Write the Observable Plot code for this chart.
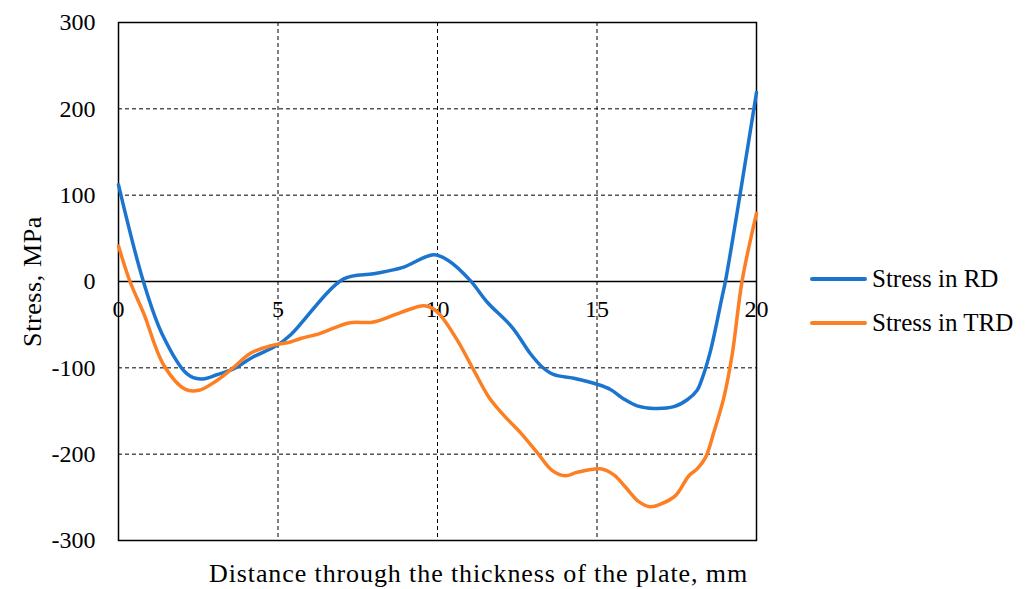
<!DOCTYPE html>
<html>
<head>
<meta charset="utf-8">
<script src="https://cdn.jsdelivr.net/npm/d3@7"></script>
<script src="https://cdn.jsdelivr.net/npm/@observablehq/plot@0.6"></script>
<style>
  body { margin: 0; background: #fff; }
  #wrap { position: relative; width: 1027px; height: 589px; font-family: "Liberation Serif", "Times New Roman", serif; }
  .leg { position: absolute; left: 810px; display: flex; align-items: center; font-size: 25px; color: #000; white-space: nowrap; }
  .leg span.sw { display: inline-block; width: 57px; height: 3.5px; border-radius: 2px; margin-right: 5px; }
</style>
</head>
<body>
<div id="wrap"></div>
<script>
const rdX = [0,0.78,1.37,2.15,2.57,3.09,3.62,4.19,4.97,5.39,7.06,8.0,8.89,9.88,10.35,11.03,11.56,12.34,12.92,13.28,13.65,14.27,15.0,15.42,15.84,16.26,16.78,17.41,17.83,18.14,18.29,18.56,18.92,19.03,20];
const rdY = [112,0,-61,-107,-113,-108,-101,-88,-74,-62,3,9,16,31,24,1,-24,-53,-84,-99,-108,-112,-119,-125,-136,-144,-147,-145,-137,-126,-113,-80,-18,1,219];
const trdX = [0,0.36,0.79,1.42,2.1,2.52,2.99,3.56,4.14,4.82,5.39,5.71,6.33,7.22,8.0,8.84,9.57,9.88,10.09,10.62,11.14,11.61,12.08,12.6,13.12,13.6,14.01,14.38,15.11,15.53,15.89,16.31,16.68,16.99,17.46,17.88,18.14,18.4,18.66,18.98,19.24,19.55,20];
const trdY = [41,0,-37,-97,-125,-126,-117,-101,-83,-74,-70,-66,-60,-48,-47,-36,-28,-32,-39,-68,-103,-134,-155,-175,-198,-219,-225,-221,-217,-224,-238,-255,-261,-258,-248,-225,-217,-204,-175,-134,-84,1,79];
const xTicks = [0,5,10,15,20];
const yTicks = [-300,-200,-100,0,100,200,300];
const gridXVals = [5,10,15];
const gridYVals = [-200,-100,100,200];
const seriesNames = ["Stress in RD","Stress in TRD"];
const colors = ["#1B75CF","#FD7F23"];
const xLabel = "Distance through the thickness of the plate, mm";
const yLabel = "Stress, MPa";

const rd = rdX.map((x,i)=>({x, y: rdY[i]}));
const trd = trdX.map((x,i)=>({x, y: trdY[i]}));

const chart = Plot.plot({
  width: 1027, height: 589,
  marginLeft: 118, marginRight: 271, marginTop: 22, marginBottom: 49,
  style: {fontFamily: '"Liberation Serif", "Times New Roman", serif', background: "#fff", color: "#000"},
  x: {domain: [0,20], axis: null},
  y: {domain: [-300,300]},
  marks: [
    Plot.gridX(gridXVals, {stroke: "#000", strokeOpacity: 1, strokeDasharray: "4,3", strokeWidth: 1}),
    Plot.gridY(gridYVals, {stroke: "#000", strokeOpacity: 1, strokeDasharray: "4,3", strokeWidth: 1}),
    Plot.ruleY([0], {stroke: "#000", strokeWidth: 1.5}),
    Plot.frame({stroke: "#000", strokeWidth: 1.5}),
    Plot.axisY(yTicks, {tickSize: 0, tickPadding: 23, fontSize: 24, tickFormat: d => String(d), label: null}),
    Plot.text([yLabel], {frameAnchor: "left", textAnchor: "middle", dx: -86, rotate: -90, fontSize: 26, text: d => d}),
    Plot.text(xTicks, {x: d => d, y: 0, dy: 28, fontSize: 24, text: d => String(d)}),
    Plot.line(rd, {x: "x", y: "y", stroke: colors[0], strokeWidth: 3.5, curve: "catmull-rom"}),
    Plot.line(trd, {x: "x", y: "y", stroke: colors[1], strokeWidth: 3.5, curve: "catmull-rom"}),
    Plot.text([xLabel], {frameAnchor: "bottom", dx: 41, dy: 41, fontSize: 26, text: d => d})
  ]
});
d3.select(chart).selectAll("text").filter(function() { return this.textContent === xLabel; }).style("letter-spacing", "0.9px");
d3.select(chart).selectAll("text").filter(function() { return this.textContent === yLabel; }).style("letter-spacing", "0.6px");
const wrap = document.getElementById("wrap");
wrap.appendChild(chart);
const legTops = [279, 323];
seriesNames.forEach((name, i) => {
  const d = document.createElement("div");
  d.className = "leg";
  d.style.top = (legTops[i] - 15) + "px";
  d.style.height = "30px";
  const sw = document.createElement("span");
  sw.className = "sw";
  sw.style.background = colors[i];
  d.appendChild(sw);
  d.appendChild(document.createTextNode(name));
  wrap.appendChild(d);
});
</script>
</body>
</html>
